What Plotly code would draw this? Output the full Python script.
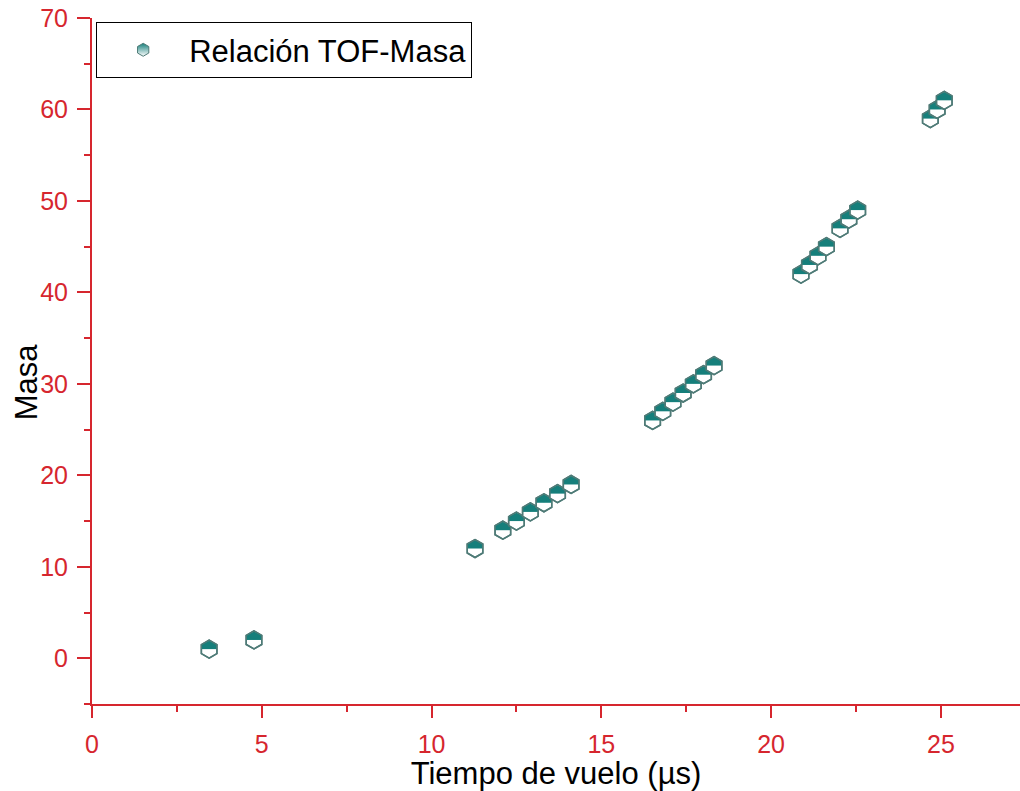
import math
import plotly.graph_objects as go

# ---- data ----
tof = [3.45, 4.77, 11.28, 12.10, 12.50, 12.91, 13.31, 13.71, 14.11,
       16.51, 16.81, 17.11, 17.41, 17.71, 18.01, 18.32,
       20.88, 21.13, 21.38, 21.63, 22.03, 22.29, 22.55,
       24.69, 24.89, 25.10]
masa = [1, 2, 12, 14, 15, 16, 17, 18, 19,
        26, 27, 28, 29, 30, 31, 32,
        42, 43, 44, 45, 47, 48, 49,
        59, 60, 61]
x_tickvals = [0, 5, 10, 15, 20, 25]
y_tickvals = [0, 10, 20, 30, 40, 50, 60, 70]
series_name = "Relación TOF-Masa"
x_title = "Tiempo de vuelo (µs)"
y_title = "Masa"

# ---- style ----
RED = "#d6262e"
TEAL = "#167f7b"
EDGE = "#4f7b77"
FONT = "Liberation Sans, Arial, sans-serif"
W, H = 1020, 791
ML, MR, MT, MB = 92, 0, 18, 87
XR = [0, 27.33]
YR = [-5, 70]

SIZE = 18.0               # hexagon marker size (px)
R = SIZE / 2
R3 = R * math.sqrt(3) / 2
ew_size = 2 * R3 / 1.4    # line-ew / diamond-wide sized to the hexagon width

fig = go.Figure()

for xv, yv in zip(tof, masa):
    # white hexagon body with outline
    fig.add_trace(go.Scatter(
        x=[xv], y=[yv], mode="markers", showlegend=False, hoverinfo="skip",
        marker=dict(symbol="hexagon", size=SIZE, color="white",
                    line=dict(color=EDGE, width=1.5))))
    # teal band of the upper half (rectangle part)
    fig.add_trace(go.Scatter(
        x=[xv], y=[yv], mode="markers", showlegend=False, hoverinfo="skip",
        marker=dict(symbol="line-ew", size=ew_size, color=TEAL,
                    angle=180, standoff=R / 4,
                    line=dict(color=TEAL, width=R / 2))))
    # teal cap of the upper half
    fig.add_trace(go.Scatter(
        x=[xv], y=[yv], mode="markers", showlegend=False, hoverinfo="skip",
        marker=dict(symbol="diamond-wide", size=ew_size, color=TEAL,
                    angle=180, standoff=R / 2,
                    line=dict(color=TEAL, width=0))))
    # outline on top
    fig.add_trace(go.Scatter(
        x=[xv], y=[yv], mode="markers", showlegend=False, hoverinfo="skip",
        marker=dict(symbol="hexagon-open", size=SIZE, color=EDGE,
                    line=dict(color=EDGE, width=1.5))))

# legend entry
fig.add_trace(go.Scatter(
    x=[None], y=[None], mode="markers", name=series_name, showlegend=True,
    marker=dict(symbol="hexagon", size=13, color=TEAL,
                gradient=dict(type="vertical", color="white"),
                line=dict(color=EDGE, width=1))))

axis_common = dict(showgrid=False, zeroline=False, linecolor=RED, linewidth=2,
                   tickcolor=RED, tickwidth=2)

fig.update_layout(
    width=W, height=H,
    margin=dict(l=ML, r=MR, t=MT, b=MB, pad=0),
    paper_bgcolor="white", plot_bgcolor="white",
    font=dict(family=FONT, color="black"),
    showlegend=True,
    legend=dict(x=0.0045, y=0.994, xanchor="left", yanchor="top",
                bgcolor="white", bordercolor="black", borderwidth=1,
                font=dict(family=FONT, size=31, color="black"),
                itemwidth=82, tracegroupgap=0),
    xaxis=dict(range=XR, showline=True, ticks="outside", ticklen=12,
               tickvals=x_tickvals, ticklabelstandoff=5,
               tickfont=dict(family=FONT, size=25, color=RED),
               minor=dict(dtick=2.5, tick0=0, ticks="outside", ticklen=6,
                          tickcolor=RED, tickwidth=2),
               title=dict(text=x_title,
                          font=dict(family=FONT, size=31, color="black"),
                          standoff=0),
               **axis_common),
    yaxis=dict(range=YR, showline=True, ticks="outside", ticklen=13,
               tickvals=y_tickvals, ticklabelstandoff=4,
               tickfont=dict(family=FONT, size=25, color=RED),
               minor=dict(dtick=5, tick0=0, ticks="outside", ticklen=6,
                          tickcolor=RED, tickwidth=2),
               **axis_common),
    xaxis2=dict(range=XR, overlaying="x", side="top", anchor="y",
                showline=True, ticks="inside", ticklen=4,
                tickvals=x_tickvals, showticklabels=False,
                minor=dict(dtick=2.5, tick0=0, ticks="inside", ticklen=3,
                           tickcolor=RED, tickwidth=2),
                **axis_common),
    yaxis2=dict(range=YR, overlaying="y", side="right", anchor="x",
                showline=False, ticks="inside", ticklen=7,
                tickvals=y_tickvals, showticklabels=False,
                minor=dict(dtick=5, tick0=0, ticks="inside", ticklen=3,
                           tickcolor=RED, tickwidth=2),
                showgrid=False, zeroline=False, tickcolor=RED, tickwidth=2),
    annotations=[dict(text=y_title, textangle=-90, showarrow=False,
                      xref="paper", yref="paper", x=-0.0711, y=0.469,
                      xanchor="center", yanchor="middle",
                      font=dict(family=FONT, size=31, color="black"))],
)

fig.write_html("out.html")
